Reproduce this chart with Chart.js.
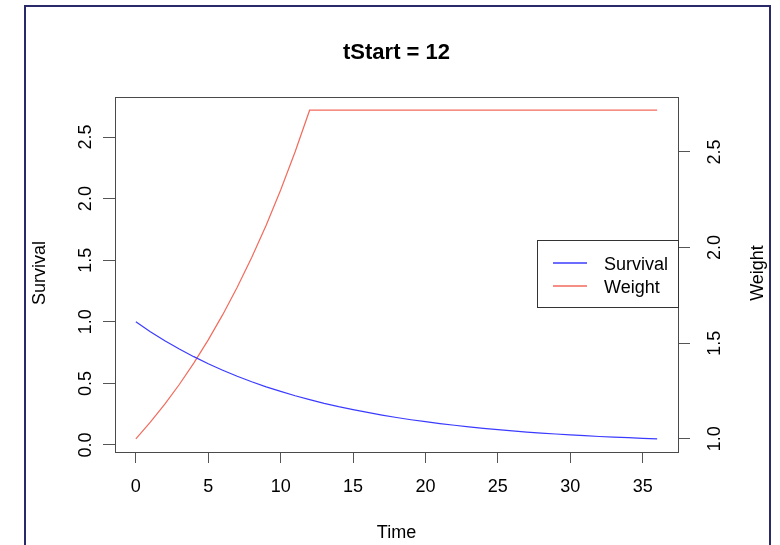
<!DOCTYPE html>
<html><head><meta charset="utf-8">
<script src="https://cdn.jsdelivr.net/npm/chart.js@4/dist/chart.umd.min.js"></script>
<style>html,body{margin:0;padding:0;background:#fff;overflow:hidden}#wrap{width:780px;height:545px;position:relative}canvas{display:block}</style>
</head><body><div id="wrap"><canvas id="c" width="780" height="545"></canvas></div>
<script>
// ---- data ----
const times = [0,1,2,3,4,5,6,7,8,9,10,11,12,13,14,15,16,17,18,19,20,21,22,23,24,25,26,27,28,29,30,31,32,33,34,35,36];
const survival = [1.000,0.920,0.846,0.779,0.717,0.659,0.607,0.558,0.513,0.472,0.435,0.400,0.368,0.338,0.311,0.287,0.264,0.243,0.223,0.205,0.189,0.174,0.160,0.147,0.135,0.124,0.115,0.105,0.097,0.089,0.082,0.076,0.069,0.064,0.059,0.054,0.050];
const weight = [1.000,1.087,1.181,1.284,1.396,1.517,1.649,1.792,1.948,2.117,2.301,2.501,2.718,2.718,2.718,2.718,2.718,2.718,2.718,2.718,2.718,2.718,2.718,2.718,2.718,2.718,2.718,2.718,2.718,2.718,2.718,2.718,2.718,2.718,2.718,2.718,2.718];
const xTicks = [0,5,10,15,20,25,30,35];
const survivalTicks = [0,0.5,1,1.5,2,2.5];
const weightTicks = [1,1.5,2,2.5];
const seriesNames = ['Survival','Weight'];
const titleText = 'tStart = 12';
const xTitle = 'Time', yLeftTitle = 'Survival', yRightTitle = 'Weight';

// ---- styling ----
const FONT = '"Liberation Sans", Arial, sans-serif';
const COLORS = ['#3b3bff', '#f26a5c'];
const fmt1 = v => v.toFixed(1);

const rplot = {
  id: 'rplot',
  afterDatasetsDraw(chart) {
    const ctx = chart.ctx, a = chart.chartArea;
    const sx = chart.scales.x, yl = chart.scales.y, yr = chart.scales.y2;
    ctx.save();
    // plot box
    ctx.strokeStyle = '#4a4a4a'; ctx.lineWidth = 1;
    ctx.strokeRect(Math.round(a.left) + 0.5, Math.round(a.top) + 0.5, Math.round(a.right - a.left), Math.round(a.bottom - a.top));
    ctx.fillStyle = '#000';
    // x tick labels
    ctx.font = '18px ' + FONT; ctx.textAlign = 'center'; ctx.textBaseline = 'alphabetic';
    xTicks.forEach(v => ctx.fillText(String(v), sx.getPixelForValue(v), 492));
    // y tick labels (rotated, parallel to axis)
    survivalTicks.forEach(v => {
      ctx.save(); ctx.translate(90.5, yl.getPixelForValue(v)); ctx.rotate(-Math.PI / 2);
      ctx.fillText(fmt1(v), 0, 0); ctx.restore();
    });
    weightTicks.forEach(v => {
      ctx.save(); ctx.translate(720, yr.getPixelForValue(v)); ctx.rotate(-Math.PI / 2);
      ctx.fillText(fmt1(v), 0, 0); ctx.restore();
    });
    // axis titles
    ctx.fillText(xTitle, (a.left + a.right) / 2, 538);
    ctx.save(); ctx.translate(45, 273); ctx.rotate(-Math.PI / 2); ctx.fillText(yLeftTitle, 0, 0); ctx.restore();
    ctx.save(); ctx.translate(763, 273); ctx.rotate(-Math.PI / 2); ctx.fillText(yRightTitle, 0, 0); ctx.restore();
    // title
    ctx.font = 'bold 22px ' + FONT;
    ctx.fillText(titleText, (a.left + a.right) / 2, 59);
    // legend
    const lx = 537.5, ly = 240.5, lw = Math.round(a.right) - 537, lh = 67;
    ctx.fillStyle = '#fff'; ctx.fillRect(lx, ly, lw, lh);
    ctx.strokeStyle = '#333'; ctx.lineWidth = 1; ctx.strokeRect(lx, ly, lw, lh);
    ctx.font = '18px ' + FONT; ctx.textAlign = 'left';
    const rows = [263, 286];
    chart.data.datasets.forEach((ds, i) => {
      ctx.strokeStyle = COLORS[i]; ctx.lineWidth = 1.5;
      ctx.beginPath(); ctx.moveTo(553, rows[i]); ctx.lineTo(587, rows[i]); ctx.stroke();
      ctx.fillStyle = '#000';
      ctx.fillText(ds.label, 604, rows[i] + 7);
    });
    // outer frame
    ctx.strokeStyle = '#2a2a6a'; ctx.lineWidth = 2;
    ctx.beginPath(); ctx.moveTo(25, 560); ctx.lineTo(25, 6); ctx.lineTo(770, 6); ctx.lineTo(770, 560); ctx.stroke();
    ctx.restore();
  }
};

const tickGrid = len => ({ display: true, drawOnChartArea: false, drawTicks: true, tickLength: len, tickColor: '#555', tickWidth: 1 });

new Chart(document.getElementById('c'), {
  type: 'line',
  data: {
    datasets: [
      { label: seriesNames[0], data: times.map((t, i) => ({ x: t, y: survival[i] })), yAxisID: 'y',
        borderColor: COLORS[0], borderWidth: 1.2, pointRadius: 0, tension: 0, fill: false },
      { label: seriesNames[1], data: times.map((t, i) => ({ x: t, y: weight[i] })), yAxisID: 'y2',
        borderColor: COLORS[1], borderWidth: 1.2, pointRadius: 0, tension: 0, fill: false }
    ]
  },
  options: {
    responsive: false, animation: false, devicePixelRatio: 1,
    layout: { padding: { top: 97, left: 0, right: 0, bottom: 0 } },
    plugins: { legend: { display: false }, tooltip: { enabled: false }, title: { display: false } },
    scales: {
      x: { type: 'linear', position: 'bottom', min: -1.44, max: 37.44,
        afterBuildTicks: s => { s.ticks = xTicks.map(v => ({ value: v })); },
        afterFit: s => { s.height = 93; },
        grid: tickGrid(11), border: { display: false }, ticks: { display: false } },
      y: { type: 'linear', position: 'left', min: -0.057, max: 2.825,
        afterBuildTicks: s => { s.ticks = survivalTicks.map(v => ({ value: v })); },
        afterFit: s => { s.width = 115; },
        grid: tickGrid(12), border: { display: false }, ticks: { display: false } },
      y2: { type: 'linear', position: 'right', min: 0.931, max: 2.787,
        afterBuildTicks: s => { s.ticks = weightTicks.map(v => ({ value: v })); },
        afterFit: s => { s.width = 102; },
        grid: tickGrid(12), border: { display: false }, ticks: { display: false } }
    }
  },
  plugins: [rplot]
});
</script>
</body></html>
